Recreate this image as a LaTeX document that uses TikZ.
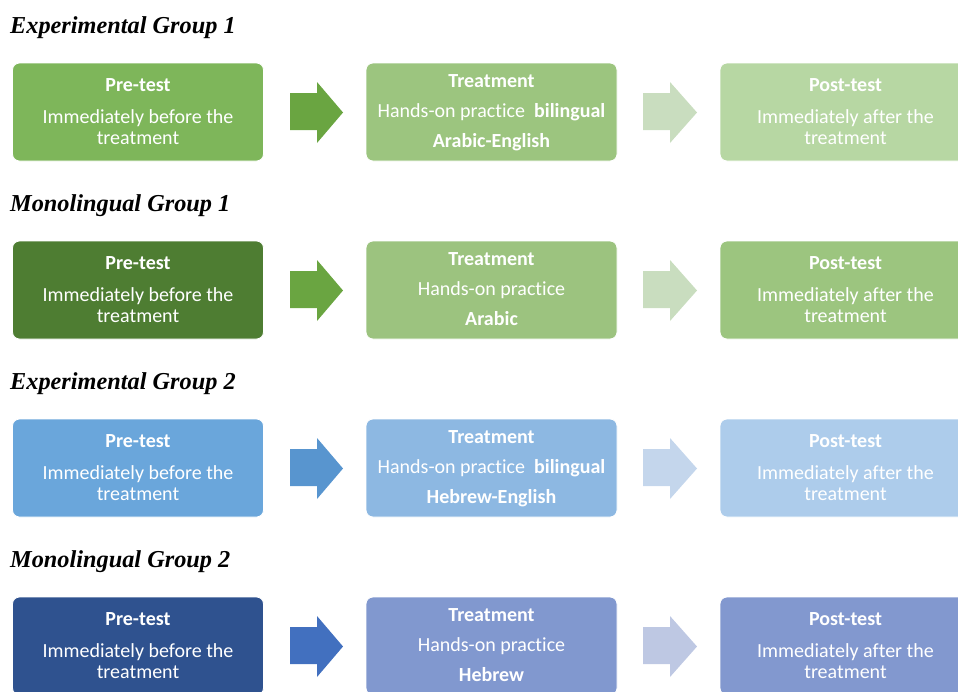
\documentclass[tikz,border=0pt]{standalone}
\usepackage{fontspec}
\setmainfont{Carlito}[Ligatures=NoCommon]
\newfontfamily\titlefont{Liberation Serif}

% fills: pre-test box, first arrow, treatment box, second arrow, post-test box
\definecolor{pre1}{HTML}{7EB65A}\definecolor{arA1}{HTML}{6AA541}\definecolor{trt1}{HTML}{9CC57F}\definecolor{arB1}{HTML}{C9DDBF}\definecolor{post1}{HTML}{B7D7A3}
\definecolor{pre2}{HTML}{4E7D32}\definecolor{arA2}{HTML}{6AA541}\definecolor{trt2}{HTML}{9CC37F}\definecolor{arB2}{HTML}{C9DDBF}\definecolor{post2}{HTML}{9CC57F}
\definecolor{pre3}{HTML}{6AA6DB}\definecolor{arA3}{HTML}{5895CF}\definecolor{trt3}{HTML}{8DB8E2}\definecolor{arB3}{HTML}{C4D6EC}\definecolor{post3}{HTML}{ADCCEB}
\definecolor{pre4}{HTML}{2F528F}\definecolor{arA4}{HTML}{4270BF}\definecolor{trt4}{HTML}{8198CF}\definecolor{arB4}{HTML}{BEC8E3}\definecolor{post4}{HTML}{8298CF}

\tikzset{
  stagebox/.style={rounded corners=7pt, draw=white, line width=0.8pt,
    minimum width=251pt, minimum height=98pt, inner sep=0pt},
  headline/.style={anchor=base, text=white, inner sep=0pt,
    font=\fontsize{20}{24}\selectfont\bfseries},
  bodyline/.style={anchor=base, text=white, inner sep=0pt,
    font=\fontsize{20}{24}\selectfont},
  grouptitle/.style={anchor=base west, inner sep=0pt,
    font=\titlefont\bfseries\itshape\fontsize{24.3}{28}\selectfont},
}

% #1 row index, #2 top edge of the boxes, #3 group title,
% #4 and #5 second and third line of the treatment box
\newcommand\grouprow[5]{%
  \node[grouptitle] (title#1) at (10,{#2-30}) {#3};
  % pre-test
  \node[stagebox, fill=pre#1] (pre#1) at (138,{#2+49}) {};
  \node[headline] (pre#1a) at (138,{#2+28}) {Pre-test};
  \node[bodyline] (pre#1b) at (138,{#2+60.5}) {Immediately before the};
  \node[bodyline] (pre#1c) at (138,{#2+81}) {treatment};
  % arrow to the treatment
  \fill[arA#1] (290,{#2+30}) -- (317,{#2+30}) -- (317,{#2+19}) -- (343,{#2+49.5})
    -- (317,{#2+80}) -- (317,{#2+67}) -- (290,{#2+67}) -- cycle;
  % treatment
  \node[stagebox, fill=trt#1] (trt#1) at (491.5,{#2+49}) {};
  \node[headline] (trt#1a) at (491.5,{#2+24}) {Treatment};
  \node[bodyline] (trt#1b) at (491.5,{#2+54}) {#4};
  \node[headline] (trt#1c) at (491.5,{#2+84}) {#5};
  % arrow to the post-test
  \fill[arB#1] (643,{#2+30}) -- (670,{#2+30}) -- (670,{#2+19}) -- (697,{#2+49.5})
    -- (670,{#2+80}) -- (670,{#2+67}) -- (643,{#2+67}) -- cycle;
  % post-test
  \node[stagebox, fill=post#1] (post#1) at (845.5,{#2+49}) {};
  \node[headline] (post#1a) at (845.5,{#2+28}) {Post-test};
  \node[bodyline] (post#1b) at (845.5,{#2+60.5}) {Immediately after the};
  \node[bodyline] (post#1c) at (845.5,{#2+81}) {treatment};
}

\begin{document}
\begin{tikzpicture}[x=1pt, y=-1pt]
  \useasboundingbox (0,0) rectangle (958,691);
  \clip (0,0) rectangle (958,691);
  \grouprow{1}{63}{Experimental Group 1}{Hands-on practice~ \textbf{bilingual}}{Arabic-English}
  \grouprow{2}{241}{Monolingual Group 1}{Hands-on practice}{Arabic}
  \grouprow{3}{419}{Experimental Group 2}{Hands-on practice~ \textbf{bilingual}}{Hebrew-English}
  \grouprow{4}{597}{Monolingual Group 2}{Hands-on practice}{Hebrew}
\end{tikzpicture}
\end{document}
